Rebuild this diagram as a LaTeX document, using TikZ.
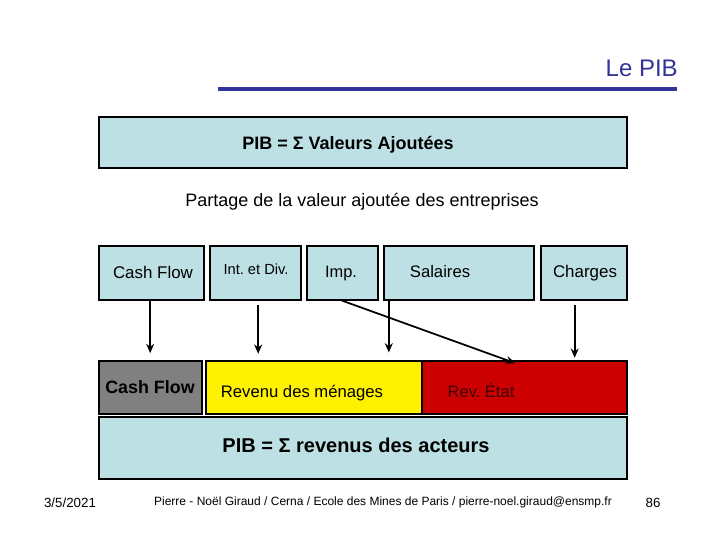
\documentclass[tikz,border=0pt]{standalone}
\usepackage{fontspec}
\setmainfont{Liberation Sans}
\usetikzlibrary{fit,arrows.meta}
\frenchspacing
\definecolor{lb}{RGB}{189,224,228}
\definecolor{navy}{RGB}{51,51,153}
\definecolor{grayb}{RGB}{128,128,128}
\definecolor{redb}{RGB}{204,0,0}
\definecolor{darkred}{RGB}{60,0,0}
\tikzset{
  box/.style={draw=black, line width=0.8pt, inner sep=0pt, fill=lb},
  lbl/.style={inner sep=0pt, anchor=base},
  arr/.style={line width=1.3pt, -{Stealth[length=7pt,width=6pt]}},
}
\begin{document}
\begin{tikzpicture}[x=0.75pt,y=-0.75pt]
\useasboundingbox (0,0) rectangle (720,540);
% title
\node[lbl, text=navy, anchor=base east, font=\fontsize{18}{20}\selectfont] (title) at (678,76.5) {Le PIB};
\coordinate (l1) at (218,89);
\coordinate (l2) at (677,89);
\draw[navy, line width=2.4pt] (l1) -- (l2);
% top box
\node[box, fit={(99,117) (627,168)}] (top) {};
\node[lbl, font=\bfseries\fontsize{13.5}{15}\selectfont] (toptxt) at (348,149.5) {PIB = Σ Valeurs Ajoutées};
\node[lbl, font=\fontsize{13.5}{15}\selectfont] (part) at (362,206.5) {Partage de la valeur ajoutée des entreprises};
% row of shares
\node[box, fit={(99,246) (204,300)}] (cf1) {};
\node[box, fit={(210,246) (301,300)}] (idv) {};
\node[box, fit={(307,246) (378,300)}] (imp) {};
\node[box, fit={(384,246) (534,300)}] (sal) {};
\node[box, fit={(541,246) (627,300)}] (chg) {};
\node[lbl, font=\fontsize{12.7}{14}\selectfont] (cf1t) at (153,278) {Cash Flow};
\node[lbl, font=\fontsize{11}{13}\selectfont] (idvt) at (256,274.3) {Int. et Div.};
\node[lbl, font=\fontsize{12.3}{14}\selectfont] (impt) at (341,277) {Imp.};
\node[lbl, font=\fontsize{12.5}{14}\selectfont] (salt) at (440,277) {Salaires};
\node[lbl, font=\fontsize{12.7}{14}\selectfont] (chgt) at (585,277) {Charges};
% destination row
\node[box, fill=grayb, fit={(99,361) (202,414)}] (cf2) {};
\node[box, fill=yellow, fit={(206,361) (422,414)}] (rev) {};
\node[box, fill=redb, fit={(422,361) (627,414)}] (etat) {};
\node[lbl, font=\bfseries\fontsize{13.4}{15}\selectfont] (cf2t) at (150,393.4) {Cash Flow};
\node[lbl, font=\fontsize{12.5}{14}\selectfont] (revt) at (302,397) {Revenu des ménages};
\node[lbl, text=darkred, font=\fontsize{12.4}{14}\selectfont] (etatt) at (481,397) {Rev. État};
% bottom box
\node[box, fit={(99,417) (627,479)}] (bot) {};
\node[lbl, font=\bfseries\fontsize{15}{17}\selectfont] (bott) at (356,452) {PIB = Σ revenus des acteurs};
% arrows
\draw[arr, shorten >=5.5pt] ([xshift=-1pt]cf1.south) -- ([xshift=-1pt]cf1.south |- cf2.north);
\draw[arr, shorten >=5pt] ([xshift=2pt,yshift=-3pt]idv.south) -- ([xshift=2pt]idv.south |- rev.north);
\draw[arr, shorten >=6pt] ([xshift=4pt]sal.south west) -- ([xshift=4pt]sal.south west |- rev.north);
\draw[arr] ([xshift=-0.5pt]imp.south) -- ([xshift=-7pt,yshift=-2pt]etat.north);
\draw[arr, shorten >=2pt] ([xshift=-7pt,yshift=-3pt]chg.south) -- ([xshift=-7pt]chg.south |- etat.north);
% footer
\node[lbl, font=\fontsize{10}{12}\selectfont] (date) at (70,507) {3/5/2021};
\node[lbl, font=\fontsize{9}{11}\selectfont] (foot) at (383,505) {Pierre - Noël Giraud / Cerna / Ecole des Mines de Paris /  pierre-noel.giraud@ensmp.fr};
\node[lbl, font=\fontsize{10}{12}\selectfont] (num) at (653,507) {86};
\end{tikzpicture}
\end{document}
